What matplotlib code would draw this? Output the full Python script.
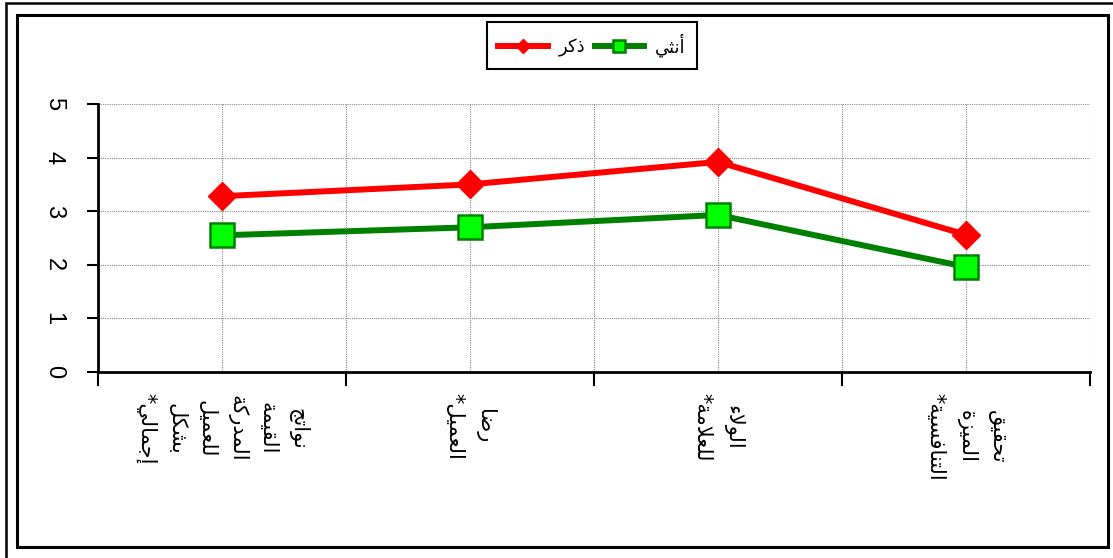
import matplotlib
matplotlib.use("Agg")
import matplotlib.pyplot as plt
from matplotlib.patches import Rectangle

# ---- data -------------------------------------------------------------
categories = [
    "نواتج\nالقيمة\nالمدركة\nللعميل\nبشكل\nإجمالي*",
    "رضا\nالعميل*",
    "الولاء\nللعلامة*",
    "تحقيق\nالميزة\nالتنافسية*",
]
series_names = ["ذكر", "أنثي"]
male = [3.28, 3.50, 3.92, 2.56]
female = [2.55, 2.70, 2.93, 1.96]
y_ticks = [0, 1, 2, 3, 4, 5]

# ---- minimal Arabic shaping (presentation forms + visual order) --------
FORMS = {
    "\u0621": ("\uFE80",),
    "\u0623": ("\uFE83", "\uFE84"),
    "\u0625": ("\uFE87", "\uFE88"),
    "\u0627": ("\uFE8D", "\uFE8E"),
    "\u0628": ("\uFE8F", "\uFE90", "\uFE91", "\uFE92"),
    "\u0629": ("\uFE93", "\uFE94"),
    "\u062A": ("\uFE95", "\uFE96", "\uFE97", "\uFE98"),
    "\u062B": ("\uFE99", "\uFE9A", "\uFE9B", "\uFE9C"),
    "\u062C": ("\uFE9D", "\uFE9E", "\uFE9F", "\uFEA0"),
    "\u062D": ("\uFEA1", "\uFEA2", "\uFEA3", "\uFEA4"),
    "\u062F": ("\uFEA9", "\uFEAA"),
    "\u0630": ("\uFEAB", "\uFEAC"),
    "\u0631": ("\uFEAD", "\uFEAE"),
    "\u0632": ("\uFEAF", "\uFEB0"),
    "\u0633": ("\uFEB1", "\uFEB2", "\uFEB3", "\uFEB4"),
    "\u0634": ("\uFEB5", "\uFEB6", "\uFEB7", "\uFEB8"),
    "\u0636": ("\uFEBD", "\uFEBE", "\uFEBF", "\uFEC0"),
    "\u0639": ("\uFEC9", "\uFECA", "\uFECB", "\uFECC"),
    "\u0641": ("\uFED1", "\uFED2", "\uFED3", "\uFED4"),
    "\u0642": ("\uFED5", "\uFED6", "\uFED7", "\uFED8"),
    "\u0643": ("\uFED9", "\uFEDA", "\uFEDB", "\uFEDC"),
    "\u0644": ("\uFEDD", "\uFEDE", "\uFEDF", "\uFEE0"),
    "\u0645": ("\uFEE1", "\uFEE2", "\uFEE3", "\uFEE4"),
    "\u0646": ("\uFEE5", "\uFEE6", "\uFEE7", "\uFEE8"),
    "\u0648": ("\uFEED", "\uFEEE"),
    "\u064A": ("\uFEF1", "\uFEF2", "\uFEF3", "\uFEF4"),
}
LAM_ALEF = {
    "\u0627": ("\uFEFB", "\uFEFC"),
    "\u0623": ("\uFEF7", "\uFEF8"),
    "\u0625": ("\uFEF9", "\uFEFA"),
}


def _joins_next(c):
    return c in FORMS and len(FORMS[c]) == 4


def _joins_prev(c):
    return c in FORMS and len(FORMS[c]) >= 2


def shape_line(text):
    out = []
    i = 0
    while i < len(text):
        c = text[i]
        if c not in FORMS:
            out.append(c)
            i += 1
            continue
        prev = text[i - 1] if i > 0 else None
        nxt = text[i + 1] if i + 1 < len(text) else None
        p = prev is not None and _joins_next(prev) and _joins_prev(c)
        if c == "\u0644" and nxt in LAM_ALEF:
            iso, fin = LAM_ALEF[nxt]
            out.append(fin if p else iso)
            i += 2
            continue
        n = nxt is not None and _joins_next(c) and _joins_prev(nxt)
        f = FORMS[c]
        if p and n:
            g = f[3]
        elif p:
            g = f[1]
        elif n:
            g = f[2]
        else:
            g = f[0]
        out.append(g)
        i += 1
    return "".join(reversed(out))


def shape(text):
    return "\n".join(shape_line(t) for t in text.split("\n"))


# ---- figure -----------------------------------------------------------
W, H = 1113, 558
fig = plt.figure(figsize=(W / 100, H / 100), dpi=100)
fig.patch.set_facecolor("white")

ax = fig.add_axes([98 / W, 1 - 372 / H, (1090 - 98) / W, (372 - 104) / H])

x = list(range(1, len(categories) + 1))
ax.plot(x, male, color="#FF0000", lw=4.3, marker="D", ms=14.5,
        mfc="#FF0000", mec="#FF0000", mew=1, label=shape(series_names[0]),
        zorder=3, solid_joinstyle="miter")
ax.plot(x, female, color="#008000", lw=4.3, marker="s", ms=17,
        mfc="#00FF00", mec="#008000", mew=1.8, label=shape(series_names[1]),
        zorder=4, solid_joinstyle="miter")

ax.set_xlim(0.5, len(categories) + 0.5)
ax.set_ylim(0, 5)

ax.set_xticks(x)
ax.set_xticks([v - 0.5 for v in x] + [x[-1] + 0.5], minor=True)
ax.set_xticklabels([shape(c) for c in categories], rotation=-90,
                   ha="center", va="top", multialignment="center",
                   linespacing=1.62, fontsize=15, family="DejaVu Sans")
ax.tick_params(axis="x", which="major", length=0, pad=15)
ax.tick_params(axis="x", which="minor", length=10, width=1.5,
               direction="out", color="black")

ax.set_yticks(y_ticks)
ax.set_yticklabels([str(v) for v in y_ticks], rotation=-90, va="center",
                   fontsize=17, family="Liberation Sans")
ax.tick_params(axis="y", length=8, width=1.5, direction="out", pad=16)

ax.grid(True, which="both", color="#8a8a8a", linestyle=(0, (1, 1)),
        linewidth=0.8)
ax.set_axisbelow(True)
for s in ("top", "right"):
    ax.spines[s].set_visible(False)
for s in ("left", "bottom"):
    ax.spines[s].set_color("black")
    ax.spines[s].set_linewidth(2)

leg = ax.legend(loc="upper center", bbox_to_anchor=(592 / W, 1 - 22 / H),
                bbox_transform=fig.transFigure, ncol=2, frameon=True,
                fancybox=False, edgecolor="black", framealpha=1,
                markerscale=0.5, handlelength=2.75, handletextpad=0.6,
                columnspacing=0.5, borderpad=0.65, borderaxespad=0,
                prop=dict(family="DejaVu Sans", size=13))
leg.get_frame().set_linewidth(1.5)

# chart frames
fig.patches.append(Rectangle((17 / W, 1 - 547 / H), (1108 - 17) / W,
                             (547 - 15) / H, transform=fig.transFigure,
                             fill=False, ec="black", lw=2.2))
fig.patches.append(Rectangle((6 / W, -0.1), 1.2, 1.1 - 3 / H,
                             transform=fig.transFigure,
                             fill=False, ec="black", lw=1.8))

fig.savefig("out.png", dpi=100)
